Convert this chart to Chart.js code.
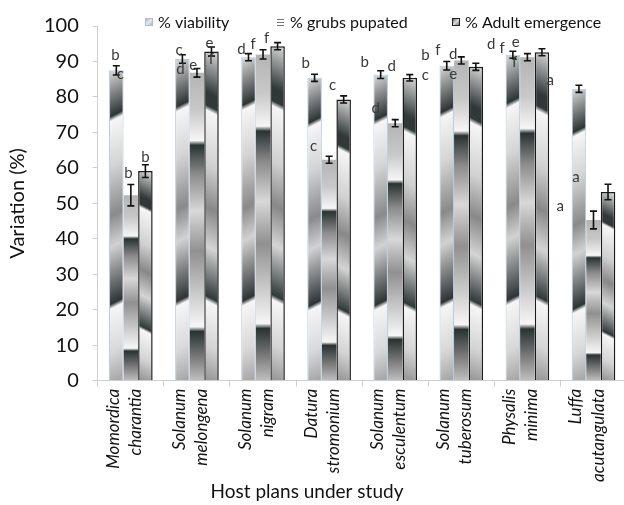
<!DOCTYPE html>
<html>
<head>
<meta charset="utf-8">
<script src="https://cdn.jsdelivr.net/npm/chart.js@4.4.2/dist/chart.umd.min.js"></script>
<style>
  html, body { margin: 0; padding: 0; background: #fff; overflow: hidden; }
  canvas { display: block; }
</style>
</head>
<body>
<canvas id="host-chart" width="640" height="505"></canvas>
<script>
// Données
const hostPlants = [
  ['Momordica', 'charantia'],
  ['Solanum', 'melongena'],
  ['Solanum', 'nigram'],
  ['Datura', 'stromonium'],
  ['Solanum', 'esculentum'],
  ['Solanum', 'tuberosum'],
  ['Physalis', 'minima'],
  ['Luffa', 'acutangulata']
];
const seriesNames = ['% viability', '% grubs pupated', '% Adult emergence'];

const viability = [87.5, 90.7, 91.2, 85.4, 86.3, 88.8, 91.9, 82.3];
const grubsPupated = [52.3, 86.8, 92.0, 62.3, 72.6, 90.3, 91.2, 45.3];
const adultEmergence = [59.1, 92.8, 94.3, 79.3, 85.4, 88.5, 92.6, 53.2];

const viabilityErr = [1.3, 1.2, 1.0, 1.0, 1.1, 1.2, 1.0, 1.0];
const grubsErr = [3.0, 1.2, 1.3, 1.0, 1.0, 1.0, 1.0, 2.5];
const adultErr = [1.8, 1.3, 1.0, 1.0, 0.9, 1.0, 1.0, 2.2];

// lettres de significativité, par plante hôte
const letters = [
  ['b', 'c', 'b', 'b'],
  ['c', 'd', 'e', 'e', 'f'],
  ['d', 'f', 'f'],
  ['b', 'c', 'c'],
  ['b', 'd', 'd', 'c'],
  ['b', 'f', 'd', 'e'],
  ['d', 'f', 'e', 'f', 'a'],
  ['a', 'a']
];

// placement des lettres : [décalage px depuis le centre de la catégorie, hauteur en %]
const letterSpots = [
  [[-15.5, 91.7], [-10.5, 86.3], [-2.5, 58.6], [14.5, 63.1]],
  [[-17.8, 93.1], [-16.5, 87.7], [-3.8, 89.1], [12.5, 95.1], [14.5, 90.6]],
  [[-21.5, 93.6], [-9.8, 94.8], [3.5, 96.5]],
  [[-23.5, 89.4], [-15.5, 66.1], [3.5, 83.2]],
  [[-30.5, 89.8], [-3.5, 88.6], [-19.5, 76.8], [30.2, 86.1]],
  [[-35.8, 91.7], [-23.5, 93.1], [-8.2, 92.2], [-8.2, 86.3]],
  [[-36.2, 95.0], [-25.2, 93.8], [-11.8, 95.4], [-12.8, 89.8], [22.8, 84.8]],
  [[-17.5, 57.3], [-33.2, 49.3]]
];

const FONT = 'Lato, "Open Sans", sans-serif';
const CAT_PCT = 0.66;

// dégradés type Excel, étirés sur chaque barre
const fillStops = [
  [[0, '#cfcfcf'], [0.14, '#2e3434'], [0.155, '#f6f6f6'], [0.3, '#d4d4d4'], [0.46, '#8a8a8a'],
   [0.56, '#d2d2d2'], [0.745, '#2e3434'], [0.76, '#f6f6f6'], [0.9, '#d8d8d8'], [1, '#a8a8a8']],
  [[0, '#b4b4b4'], [0.12, '#c8c8c8'], [0.22, '#f6f6f6'], [0.235, '#2a3232'], [0.33, '#8c8c8c'],
   [0.45, '#d8d8d8'], [0.58, '#909090'], [0.75, '#d8d8d8'], [0.825, '#f6f6f6'], [0.84, '#2a3232'],
   [0.93, '#808080'], [1, '#c0c0c0']],
  [[0, '#d0d0d0'], [0.13, '#303838'], [0.17, '#303838'], [0.185, '#f6f6f6'], [0.35, '#d0d0d0'],
   [0.48, '#888888'], [0.6, '#d4d4d4'], [0.75, '#303838'], [0.765, '#f6f6f6'], [0.9, '#d4d4d4'], [1, '#999999']]
];
const fillSlant = [0.5, 0, -0.5];
const fallbackFill = ['#c8c8c8', '#b8b8b8', '#a8a8a8'];

function barFill(context) {
  const i = context.datasetIndex;
  const chart = context.chart;
  const { chartArea, scales } = chart;
  if (!chartArea || context.type !== 'data' || !scales.x) return fallbackFill[i];
  const value = context.raw;
  const yTop = scales.y.getPixelForValue(value);
  const yBot = scales.y.getPixelForValue(0);
  const H = Math.max(yBot - yTop, 1);
  const catW = scales.x.width / hostPlants.length;
  const barW = catW * CAT_PCT / 3;
  const xc = scales.x.getPixelForValue(context.dataIndex) + (i - 1) * barW;
  const s = fillSlant[i];
  const L = H / (1 + s * s);
  const g = chart.ctx.createLinearGradient(xc, yTop, xc + s * L, yTop + L);
  fillStops[i].forEach(([p, c]) => g.addColorStop(p, c));
  return g;
}

// barres d'erreur
const errorBarsPlugin = {
  id: 'errorBars',
  afterDatasetsDraw(chart) {
    const { ctx, scales: { y } } = chart;
    ctx.save();
    ctx.strokeStyle = '#111';
    ctx.lineWidth = 1.6;
    chart.data.datasets.forEach((ds, i) => {
      chart.getDatasetMeta(i).data.forEach((bar, j) => {
        const v = ds.data[j], e = ds.errors[j];
        const x = bar.x;
        const t = y.getPixelForValue(v + e), b = y.getPixelForValue(v - e);
        ctx.beginPath();
        ctx.moveTo(x, t); ctx.lineTo(x, b);
        ctx.moveTo(x - 3.5, t); ctx.lineTo(x + 3.5, t);
        ctx.moveTo(x - 3.5, b); ctx.lineTo(x + 3.5, b);
        ctx.stroke();
      });
    });
    ctx.restore();
  }
};

// lettres
const lettersPlugin = {
  id: 'letters',
  afterDatasetsDraw(chart) {
    const { ctx, scales: { x, y } } = chart;
    ctx.save();
    ctx.font = '15px ' + FONT;
    ctx.fillStyle = '#3a3a3a';
    ctx.textAlign = 'center';
    ctx.textBaseline = 'middle';
    letters.forEach((row, k) => {
      row.forEach((letter, n) => {
        const [dx, v] = letterSpots[k][n];
        ctx.fillText(letter, x.getPixelForValue(k) + dx, y.getPixelForValue(v));
      });
    });
    ctx.restore();
  }
};

// légende + titre de l'axe X
const legendX = [145, 277, 452];
const extrasPlugin = {
  id: 'extras',
  afterDraw(chart) {
    const { ctx } = chart;
    ctx.save();
    ctx.font = '16px ' + FONT;
    ctx.fillStyle = '#111';
    ctx.textBaseline = 'middle';
    const ly = 22;
    seriesNames.forEach((name, i) => {
      const bx = legendX[i];
      if (i === 0) {
        const g = ctx.createLinearGradient(bx, ly - 4, bx + 8, ly + 4);
        g.addColorStop(0, '#9aa8b8'); g.addColorStop(0.5, '#e8e8e8'); g.addColorStop(1, '#a0a8b0');
        ctx.fillStyle = g;
        ctx.fillRect(bx, ly - 4, 8, 8);
        ctx.strokeStyle = '#a9c1de';
        ctx.lineWidth = 1;
        ctx.strokeRect(bx + 0.5, ly - 3.5, 7, 7);
      } else if (i === 1) {
        ctx.strokeStyle = '#777';
        ctx.lineWidth = 1;
        [-3, 0, 3].forEach(d => {
          ctx.beginPath(); ctx.moveTo(bx, ly + d + 0.5); ctx.lineTo(bx + 7, ly + d + 0.5); ctx.stroke();
        });
      } else {
        const g = ctx.createLinearGradient(bx, ly - 4, bx + 8, ly + 4);
        g.addColorStop(0, '#444'); g.addColorStop(0.5, '#ddd'); g.addColorStop(1, '#555');
        ctx.fillStyle = g;
        ctx.fillRect(bx, ly - 4, 8, 8);
        ctx.strokeStyle = '#222';
        ctx.lineWidth = 1;
        ctx.strokeRect(bx + 0.5, ly - 3.5, 7, 7);
      }
      ctx.fillStyle = '#111';
      ctx.textAlign = 'left';
      ctx.fillText(name, bx + 13, ly + 1);
    });
    ctx.font = '19px ' + FONT;
    ctx.textAlign = 'center';
    ctx.fillText('Host plans under study', 307, 492);
    ctx.restore();
  }
};

new Chart(document.getElementById('host-chart'), {
  type: 'bar',
  data: {
    labels: hostPlants,
    datasets: [
      { label: seriesNames[0], data: viability, errors: viabilityErr,
        backgroundColor: barFill, borderColor: '#b3cbe6', borderWidth: 1 },
      { label: seriesNames[1], data: grubsPupated, errors: grubsErr,
        backgroundColor: barFill, borderWidth: 0 },
      { label: seriesNames[2], data: adultEmergence, errors: adultErr,
        backgroundColor: barFill, borderColor: '#1a1a1a', borderWidth: 1.5 }
    ]
  },
  options: {
    responsive: false,
    animation: false,
    devicePixelRatio: 1,
    layout: { padding: { top: 13, right: 5, bottom: 21, left: 0 } },
    datasets: { bar: { categoryPercentage: CAT_PCT, barPercentage: 1 } },
    plugins: {
      legend: { display: false },
      tooltip: { enabled: false }
    },
    scales: {
      x: {
        offset: true,
        grid: { offset: true, drawOnChartArea: false, drawTicks: true, tickLength: 6, color: '#cfcfcf' },
        border: { color: '#cfcfcf' },
        ticks: {
          autoSkip: false, minRotation: 90, maxRotation: 90, padding: 2, labelOffset: -17.5,
          color: '#111', font: { family: FONT, size: 17, style: 'italic', lineHeight: 1.3 }
        }
      },
      y: {
        min: 0, max: 100,
        grid: { drawOnChartArea: false, drawTicks: true, tickLength: 5, color: '#cfcfcf' },
        border: { color: '#cfcfcf' },
        ticks: { stepSize: 10, padding: 14, color: '#111', font: { family: FONT, size: 20 } },
        title: {
          display: true, text: 'Variation (%)', color: '#111',
          font: { family: FONT, size: 20 }, padding: { top: 6, bottom: 0 }
        }
      }
    }
  },
  plugins: [errorBarsPlugin, lettersPlugin, extrasPlugin]
});
</script>
</body>
</html>
